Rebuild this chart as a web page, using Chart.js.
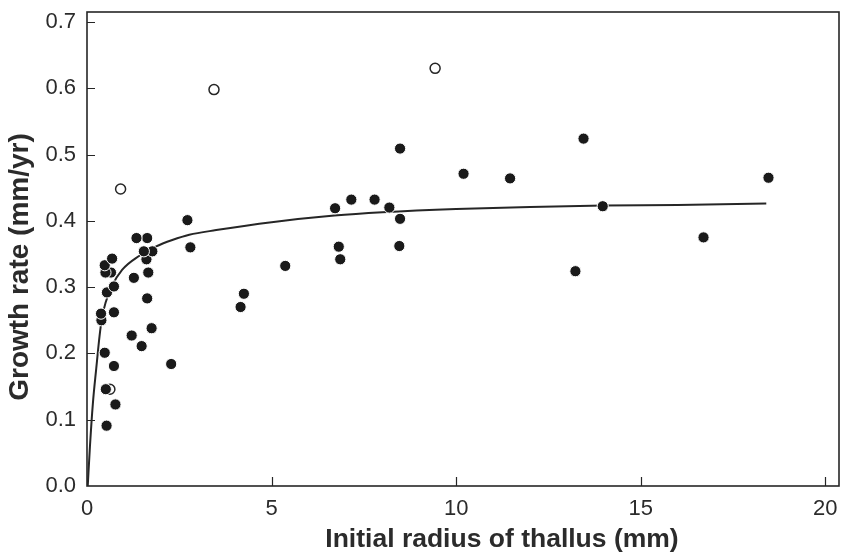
<!DOCTYPE html>
<html>
<head>
<meta charset="utf-8">
<script src="https://cdn.jsdelivr.net/npm/chart.js@4.4.1/dist/chart.umd.min.js"></script>
<style>
  html, body { margin: 0; padding: 0; background: #fff; }
  #wrap { width: 846px; height: 557px; }
</style>
</head>
<body>
<div id="wrap"><canvas id="chart" width="846" height="557"></canvas></div>
<script>
// filled circles (initial radius mm, growth rate mm/yr)
const solidX = [0.53, 0.77, 0.51, 0.73, 2.28, 0.48, 1.48, 1.75, 1.21, 0.73, 0.39, 0.38,
                1.63, 0.54, 0.73, 1.66, 1.27, 1.61, 1.77, 1.54, 0.65, 0.50, 0.48, 0.68,
                1.63, 1.34, 2.80, 2.72, 4.16, 4.25, 5.37, 6.86, 6.82, 8.46, 8.48, 6.72,
                8.19, 7.16, 7.79, 8.48, 10.20, 11.46, 13.45, 13.97, 13.23, 16.70, 18.46];
const solidY = [0.091, 0.123, 0.146, 0.181, 0.184, 0.201, 0.211, 0.238, 0.227, 0.262, 0.250, 0.260,
                0.283, 0.292, 0.301, 0.322, 0.314, 0.342, 0.354, 0.354, 0.322, 0.322, 0.333, 0.343,
                0.374, 0.374, 0.360, 0.401, 0.270, 0.290, 0.332, 0.342, 0.361, 0.362, 0.403, 0.419,
                0.420, 0.432, 0.432, 0.509, 0.471, 0.464, 0.524, 0.422, 0.324, 0.375, 0.465];

// open circles
const openX = [0.62, 0.91, 3.44, 9.43];
const openY = [0.146, 0.448, 0.598, 0.630];

// fitted curve
const curveX = [0.02, 0.08, 0.16, 0.25, 0.34, 0.41, 0.50, 0.68, 0.95, 1.41, 1.86, 2.31,
                2.77, 3.50, 5.00, 6.70, 8.00, 10.00, 12.00, 14.00, 16.00, 18.40];
const curveY = [0.000, 0.060, 0.125, 0.177, 0.226, 0.255, 0.276, 0.302, 0.326, 0.347, 0.361, 0.371,
                0.379, 0.386, 0.398, 0.408, 0.413, 0.418, 0.421, 0.423, 0.424, 0.426];

const xTicks = [0, 5, 10, 15, 20];
const yTicks = [0, 0.1, 0.2, 0.3, 0.4, 0.5, 0.6, 0.7];

const xTitle = 'Initial radius of thallus (mm)';
const yTitle = 'Growth rate (mm/yr)';

const ink = '#262626';
const textInk = '#2b2b2b';
const toPoints = (xs, ys) => xs.map((x, i) => ({ x: x, y: ys[i] }));

// box round the plot plus the short inward tick marks
const framePlugin = {
    id: 'frame',
    beforeDatasetsDraw(chart) {
        const { ctx, chartArea: a, scales } = chart;
        ctx.save();
        ctx.strokeStyle = ink;
        ctx.lineWidth = 1.6;
        ctx.strokeRect(a.left, a.top, a.right - a.left, a.bottom - a.top);
        ctx.lineWidth = 1.2;
        ctx.beginPath();
        for (const v of yTicks) {
            if (v === 0) continue;
            const py = Math.round(scales.y.getPixelForValue(v)) + 0.5;
            ctx.moveTo(a.left, py);
            ctx.lineTo(a.left + 8, py);
        }
        for (const v of xTicks) {
            if (v === 0) continue;
            const px = Math.round(scales.x.getPixelForValue(v)) + 0.5;
            ctx.moveTo(px, a.bottom);
            ctx.lineTo(px, a.bottom - 9);
        }
        ctx.stroke();
        ctx.restore();
    }
};

// axis titles: in the figure they sit off-centre, so place them by hand
const titlePlugin = {
    id: 'axisTitles',
    afterDraw(chart) {
        const { ctx, chartArea: a } = chart;
        ctx.save();
        ctx.fillStyle = textInk;
        ctx.textAlign = 'center';
        ctx.textBaseline = 'middle';
        ctx.font = 'bold 26.5px "Liberation Sans"';
        ctx.fillText(xTitle, (a.left + a.right) / 2 + 39, a.bottom + 54);
        ctx.translate(20, (a.top + a.bottom) / 2 + 18);
        ctx.rotate(-Math.PI / 2);
        ctx.font = 'bold 28px "Liberation Sans"';
        ctx.fillText(yTitle, 0, 0);
        ctx.restore();
    }
};

new Chart(document.getElementById('chart'), {
    type: 'scatter',
    data: {
        datasets: [
            {
                label: 'fit',
                type: 'line',
                data: toPoints(curveX, curveY),
                borderColor: ink,
                borderWidth: 2,
                pointRadius: 0,
                fill: false,
                cubicInterpolationMode: 'monotone',
                order: 3
            },
            {
                label: 'open',
                data: toPoints(openX, openY),
                pointRadius: 5,
                pointBackgroundColor: '#fff',
                pointBorderColor: ink,
                pointBorderWidth: 1.5,
                order: 2
            },
            {
                label: 'solid',
                data: toPoints(solidX, solidY),
                pointRadius: 5.6,
                pointBackgroundColor: '#1a1a1a',
                pointBorderColor: '#fff',
                pointBorderWidth: 1,
                order: 1
            }
        ]
    },
    options: {
        responsive: false,
        animation: false,
        layout: { padding: { top: 12, right: 7, left: 0, bottom: 0 } },
        plugins: {
            legend: { display: false },
            tooltip: { enabled: false }
        },
        scales: {
            x: {
                type: 'linear',
                min: 0,
                max: 20.37,
                afterBuildTicks: s => { s.ticks = xTicks.map(v => ({ value: v })); },
                afterFit: s => { s.height = 71; s.paddingLeft = 0; s.paddingRight = 0; },
                grid: { display: false, drawTicks: false },
                border: { display: false },
                ticks: {
                    padding: 10,
                    color: textInk,
                    font: { family: 'Liberation Sans', size: 22 },
                    maxRotation: 0,
                    callback: v => String(v)
                },
                title: { display: false }
            },
            y: {
                type: 'linear',
                min: 0,
                max: 0.715,
                afterBuildTicks: s => { s.ticks = yTicks.map(v => ({ value: v })); },
                afterFit: s => { s.width = 87; s.paddingTop = 0; s.paddingBottom = 0; },
                grid: { display: false, drawTicks: false },
                border: { display: false },
                ticks: {
                    padding: 11,
                    color: textInk,
                    font: { family: 'Liberation Sans', size: 22 },
                    callback: v => v.toFixed(1)
                },
                title: { display: false }
            }
        }
    },
    plugins: [framePlugin, titlePlugin]
});
</script>
</body>
</html>
